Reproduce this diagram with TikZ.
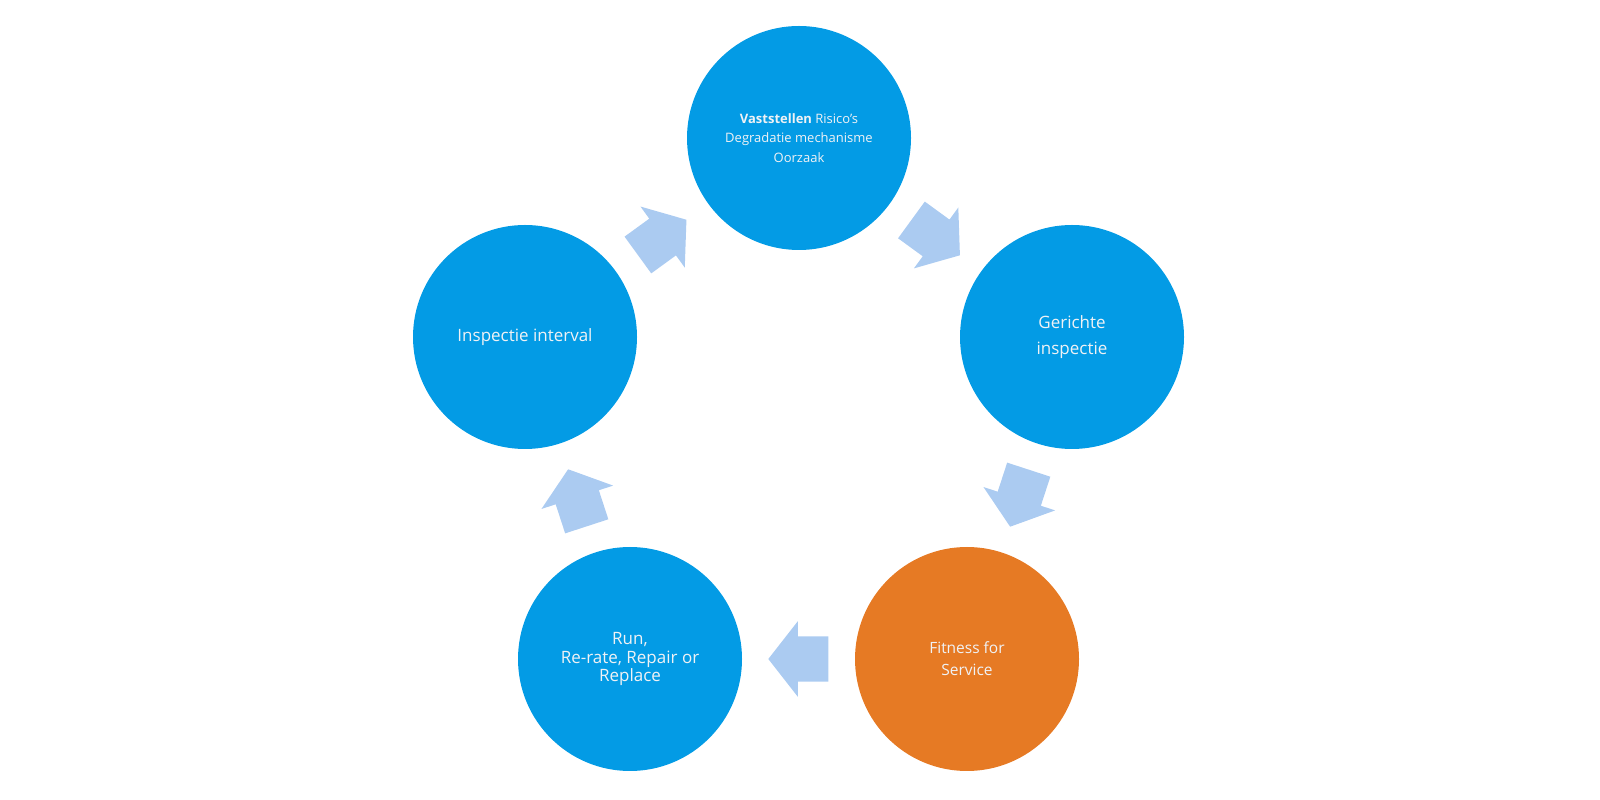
\documentclass[tikz,border=0pt]{standalone}
\usepackage{fontspec}
\setmainfont{Open Sans}
\usetikzlibrary{shapes.arrows,calc}
\definecolor{stageblue}{RGB}{3,155,229}
\definecolor{stageorange}{RGB}{230,122,36}
\definecolor{flowblue}{RGB}{171,203,241}
\definecolor{stagetext}{RGB}{240,242,245}
\tikzset{
  stage/.style={circle,fill=stageblue,minimum size=224pt,inner sep=0pt,text=stagetext,align=center},
  flow/.style={single arrow,fill=flowblue,draw=none,minimum height=60pt,anchor=tail,
    single arrow head extend=15pt,single arrow tip angle=104,inner xsep=0pt,inner ysep=22.5pt}
}
\begin{document}
\begin{tikzpicture}[x=1pt,y=1pt]
\useasboundingbox (0,0) rectangle (1600,800);
\node[stage,font=\fontsize{13}{19.4}\selectfont] (risk) at (799,662) {\textbf{Vaststellen} Risico’s\\Degradatie mechanisme\\Oorzaak};
\node[stage,font=\fontsize{17}{25.5}\selectfont] (target) at (1072,463) {Gerichte\\inspectie};
\node[stage,fill=stageorange,font=\fontsize{15.5}{22}\selectfont] (ffs) at (967,141) {Fitness for\\Service};
\node[stage,font=\fontsize{17}{18.4}\selectfont] (action) at (630,141) {Run,\\Re-rate, Repair or\\Replace};
\node[stage,font=\fontsize{17}{20}\selectfont] (interval) at (525,463) {Inspectie interval};
% block arrows halfway between the stages
\foreach \a/\b in {risk/target,target/ffs,ffs/action,action/interval,interval/risk}
  \path let \p1=($(\b)-(\a)$), \n1={atan2(\y1,\x1)} in
    node[flow,rotate=\n1] at ($(\a)!0.5!(\b)!30pt!(\a)$) {};
\end{tikzpicture}
\end{document}
